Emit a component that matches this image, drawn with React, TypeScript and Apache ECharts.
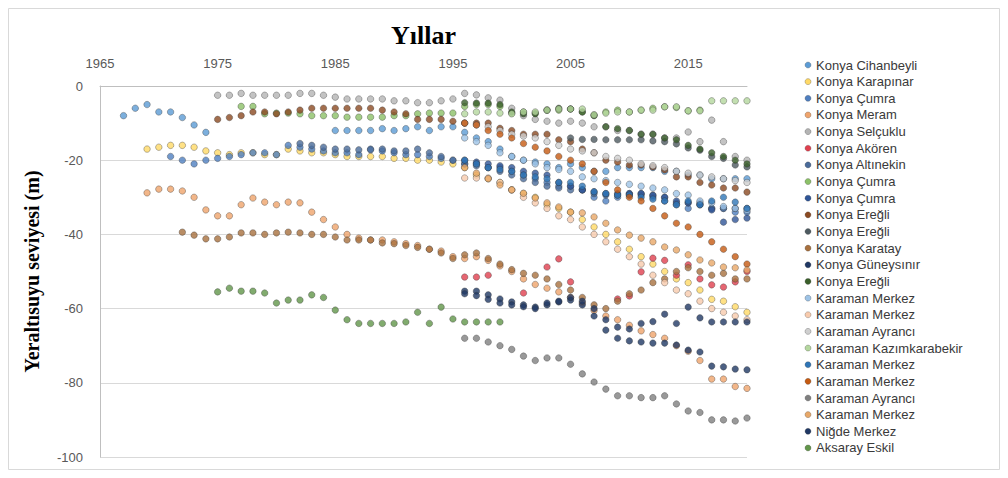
import React, { useEffect, useRef } from "react";
import * as echarts from "echarts";

// ---------- data ----------
const xTickYears = [1965, 1975, 1985, 1995, 2005, 2015];
const yTicks = [0, -20, -40, -60, -80, -100];

const seriesNames = [
  "Konya Cihanbeyli", "Konya Karapınar", "Konya Çumra", "Konya Meram", "Konya Selçuklu",
  "Konya Akören", "Konya Altınekin", "Konya Çumra", "Konya Çumra", "Konya Ereğli",
  "Konya Ereğli", "Konya Karatay", "Konya Güneysınır", "Konya Ereğli", "Karaman Merkez",
  "Karaman Merkez", "Karaman Ayrancı", "Karaman Kazımkarabekir", "Karaman Merkez", "Karaman Merkez",
  "Karaman Ayrancı", "Karaman Merkez", "Niğde Merkez", "Aksaray Eskil",
];

const seriesColors = [
  "#5B9BD5", "#FFD966", "#4F7FC0", "#EFA46C", "#B4B4B4",
  "#E0404F", "#4A6B9A", "#8CC168", "#2F5597", "#8B4A22",
  "#4D5A60", "#A8703E", "#1F3864", "#3A5F2A", "#9DC3E6",
  "#F8CBAD", "#CFCFCF", "#B4D79E", "#2E75B6", "#C55A11",
  "#7F7F7F", "#E8A868", "#203864", "#62964A",
];

const startYears = [
  1967, 1969, 1971, 1969, 1975,
  1996, 1982, 1977, 1996, 1975,
  2005, 1972, 1996, 1996, 1996,
  1996, 1996, 1996, 1996, 1996,
  1996, 1996, 1996, 1975,
];

const konyaCihanbeyli = [-8, -6, -5, -7, -7, -8.5, -10.5, -12.5,
  null, null, null, null, null, null, null, null, null, null,
  -12, -12, -12, -12, -11.5, -12, -11.5, -11, -12, -11, -11,
  -12.5, -14, -15, -17, -19, -20, -20.5, -21, -22, -21, -22, -23, -23, -22, -22, -22, -22, -23, -23, -24, -24, -25, -25, -25, -25];
const konyaKarapinar = [-17, -16.5, -16, -16, -16.5, -17.5, -18, -18.5, -18, -18, -18.5, -18.5, -17, -17.5, -18, -18, -18.5, -19, -19, -19, -19, -19.5, -19.5, -20, -20, -20.5, -21,
  -22, -24, -25, -26, -28, -29, -30, -32, -33, -34, -36, -38, -40, -42, -44, -46, -48, -50, -52, -53, -55, -57.5, -58, -59.5, -61];
const konyaCumra1 = [-19, -20, -21, -20, -19.5, -19, -18.5, -18, -18, -18.5, -16, -16.5, -17, -17.5, -18, -18, -18.5, -17, -17.5, -18, -18.5, -18.5, -19, -19.5, -20,
  -21, -21, -22, -22, -23, -24, -25, -26, -27, -27, -28, -30, -31, -30, -29, -29, -30, -31, -32, -33, -32, -33, -33, -34, -34];
const konyaMeram = [-28.8, -27.8, -27.8, -28.3, -30, -33.4, -35, -35, -32, -30.2, -31.3, -32, -31.3, -31.5, -34, -36, -38, -40, -41, -41.5, -41.5, -42, -42.5, -43, -44, -44.5, -46,
  -46.5, -46, -47, -48.5, -50, -52, -53.5, -54.5, -55.5, -57, -58.5, -60.5, -62, -63, -64.5, -66, -67, -68, -70, -71.5, -74, -79, -79, -81, -81.5];
const konyaSelcuklu = [-2.5, -2.5, -2, -2.5, -2.5, -2.5, -2.5, -2, -2, -2.5, -3, -3.5, -3.5, -3.5, -3.5, -4, -4, -4.5, -4.5, -4, -3.5, -2, -2.4, -3.2, -3.8,
  -6, -8, -9, -9.5, -10, -9.5, -10, -11, -11, -12, -12, -13, -13, -14, -14, -12.4, -15, -9.2, -15, -19, -20];
const konyaAkoren = [-51.5, -51.5, -51, null, null, -55.8, null, -48.8, -46.6, -52.8, null, null, null, -57.4, -56.6, -50.1, -46.4, -47, -51, -48.2, -52, -53.6, -54.2, -52.8, -50];
const konyaAltinekin = [-15.5, -16, -16.5, -17, -17, -17.2, -17.2, -17, -17.5, -17.5, -17, -18, -19, -20,
  -21, -21.5, -22, -23, -24, -25, -26, -27, -27.5, -28, -28, -29, -29.4, -29.4, -29.4, -29.4, -29.4, -30, -31.5, -31.5, -32, -33, -33, -33, -33];
const konyaCumra2 = [-5.5, -5.5, -7.5, -7.3, -7.3, -7.5, -8, -8, -8, -8.4, -8.4, -8.4, -8.4, -8, -8, -7.5, -7.3, -7.3, -7.3,
  -5.5, -5, -5, -5.5, -7.3, -7, -7.3, -6.5, -6.5, -6.2, -7, -7.8, -7, -6.5, -7, -6.5, -6, -5.6, -5.8, -6.7, -6.5];
const konyaCumra3 = [-20, -20.5, -21, -21.5, -22, -23, -23.5, -24, -26, -27, -28, -28.5, -29, -29, -29, -29, -29.5, -30, -31, -31.5, -31.5, -33.4, -36.7, -36, -35.6];
const konyaEregli1 = [-9, -8.5, -8, -7, -7, -7.5, -7, -6.5, -6, -6, -6, -6, -6, -6, -6.5, -7, -7.5, -9, -9, -9, -9.5, -10, -10, -10, -11.4,
  -12, -13, -13, -13, -14.5, -15, -17, -18, -20, -20.5, -21.3, -21.3, -21.8, -22.6, -24.5, -24.5, -26, -26.7, -27.5, -27.5, -28.6];
const konyaEregli2 = [-14, -14.4, -14.4, -14.5, -14.5, -14.5, -14.5, -14.8, -15, -15.6, -16.7, -17.3, -19, -19.5, -21.3, -21.8];
const konyaKaratay = [-39.4, -40.2, -41.2, -41.2, -40.7, -39.6, -39.6, -40, -39.6, -39.4, -39.6, -40, -40, -40.7, -41.5, -41.5, -41.5, -42.3, -42.5, -43, -43.5, -44, -45, -46.5,
  -45.5, -45, -46.5, -48, -49.5, -50.5, -51, -52, -53.5, -55, -57, -59, -60, -58, -56, -55, -53, -52, -50, -49, -50, -51, -50.5, -52, -52];
const konyaGuneysinir = [-55.3, -55.3, -56.3, -57.4, -58.2, -59, -59.6, -59, -58.2, -57.7, -59, -62, -65.8, -68, -68.7, -69, -69.3, -69.3, -69.8, -71.2, -71.7, -75.5, -75.7, -76.3, -76.5];
const konyaEregli3 = [-4.5, -4.6, -4.6, -5, -7, -7.5, -7.5, -6.5, -6, -6.2, -7, -8, -11, -11.5, -12, -13, -13, -14, -14.5, -16, -17, -18, -19, -20, -21];
const karamanMerkez1 = [-14, -15, -16, -18, -19, -20, -21, -22, -22.5, -23, -24.5, -25, -25.5, -26, -26.5, -27, -27.5, -28, -29, -29.4, -31, -31.5, -32.5, -33, -33.5];
const karamanMerkez2 = [-24.8, -24.8, -24.8, -26, -28, -30, -31.5, -33, -35, -36, -38, -40, -42, -44, -46, -48, -51, -53, -55, -56, -58, -60, -61, -62, -63];
const karamanAyranci1 = [-10, -10.5, -11, -12, -13, -13.5, -14, -15, -16, -17, -17.5, -18, -19, -19.5, -20, -21, -21.5, -22, -23, -23.5, -24, -24.5, -25, -25.5, -26];
const karamanKazimkarabekir = [-7.5, -7, -7, -7.3, -7.5, -7, -7, -6.5, -6.2, -6.2, -6.2, -7.8, -7.3, -7, -7, -6.5, -6.5, -5.6, -5.6, -6.7, -6.7, -4, -4, -4, -4];
const karamanMerkez3 = [-20, -21, -22, -22.5, -23, -24, -24.5, -25, -26, -26, -27, -28.5, -29, -29.4, -29.4, -30, -30.5, -31, -32, -31, -32, -31, -30, -31.3, -33];
const karamanMerkez4 = [-10, -10.5, -12, -13, -14, -15.5, -16.5, -17.5, -19, -20, -21, -23, -26, -28, -30, -31, -33, -35, -37, -38, -40, -42, -44, -46, -48];
const karamanAyranci2 = [-68, -68, -69, -70, -71, -72.8, -74, -73.3, -73.3, -75, -77.6, -79.8, -81.7, -83.5, -83.5, -84, -84, -83.5, -85.7, -87.6, -88, -90, -90, -90.3, -89.5];
const karamanMerkez5 = [-22, -23.5, -25, -26.7, -28, -28.9, -30.2, -31.5, -32.6, -34, -34.2, -35.3, -37, -38.8, -40.2, -41, -42, -43.4, -44.2, -45.5, -46.9, -47.7, -48.8, -49, -49.6];
const nigdeMerkez = [-56, -56.5, -57.5, -58.5, -59, -59.5, -60, -58.5, -58, -57, -58, -60, -63, -65, -65.5, -64, -63.5, -61.5, -64, -59.6, -62.5, -63.6, -63.6, -63.6, -63.6];
const aksarayEskil = [-55.5, -54.5, -55.3, -55.3, -55.8, -58.5, -57.7, -57.7, -56.3, -57, -60.4, -63, -64, -64, -64, -64, -63.6, -61, -64, -59.6, -62.8, -63.6, -63.6, -63.6, -63.6];

const seriesValues: (number | null)[][] = [
  konyaCihanbeyli, konyaKarapinar, konyaCumra1, konyaMeram, konyaSelcuklu,
  konyaAkoren, konyaAltinekin, konyaCumra2, konyaCumra3, konyaEregli1,
  konyaEregli2, konyaKaratay, konyaGuneysinir, konyaEregli3, karamanMerkez1,
  karamanMerkez2, karamanAyranci1, karamanKazimkarabekir, karamanMerkez3, karamanMerkez4,
  karamanAyranci2, karamanMerkez5, nigdeMerkez, aksarayEskil,
];

const xAxisTitle = "Yıllar";
const yAxisTitle = "Yeraltısuyu seviyesi (m)";

// ---------- component ----------
export default function App() {
  const ref = useRef<HTMLDivElement>(null);

  useEffect(() => {
    if (!ref.current) return;
    const chart = echarts.init(ref.current, undefined, { renderer: "svg" });

    const series = seriesValues.map((vals, si) => ({
      type: "scatter" as const,
      name: seriesNames[si],
      symbol: "circle",
      symbolSize: 6.5,
      itemStyle: {
        color: seriesColors[si],
        borderColor: "rgba(50,50,50,0.55)",
        borderWidth: 0.8,
      },
      data: vals
        .map((v, i) => (v === null ? null : [startYears[si] + i, v]))
        .filter((d) => d !== null),
    }));

    const legendX = 808;
    const legendY0 = 65;
    const legendStep = 16.65;
    const legendChildren: any[] = [];
    seriesNames.forEach((name, i) => {
      legendChildren.push({
        type: "circle",
        shape: { cx: legendX, cy: legendY0 + i * legendStep, r: 3 },
        style: { fill: seriesColors[i], stroke: "rgba(50,50,50,0.45)", lineWidth: 0.6 },
      });
      legendChildren.push({
        type: "text",
        x: legendX + 8,
        y: legendY0 + i * legendStep,
        style: {
          text: name,
          fill: "#3a3a3a",
          font: "13px 'Liberation Sans', Arial, sans-serif",
          verticalAlign: "middle",
          align: "left",
        },
      });
    });

    chart.setOption({
      animation: false,
      backgroundColor: "#ffffff",
      grid: { left: 100, top: 86, width: 647, height: 371, containLabel: false },
      xAxis: {
        type: "value",
        position: "top",
        min: 1965,
        max: 2020,
        interval: 10,
        name: xAxisTitle,
        nameLocation: "middle",
        nameGap: 38,
        nameTextStyle: {
          fontFamily: "'Liberation Serif', 'Times New Roman', serif",
          fontWeight: "bold",
          fontSize: 26,
          color: "#000000",
        },
        axisLine: { show: true, lineStyle: { color: "#BFBFBF", width: 1 } },
        axisTick: { show: false },
        splitLine: { show: false },
        axisLabel: {
          show: true,
          showMaxLabel: false,
          margin: 16,
          color: "#595959",
          fontSize: 13,
          fontFamily: "'Liberation Sans', Arial, sans-serif",
          formatter: (v: number) => (xTickYears.includes(v) ? String(v) : ""),
        },
      },
      yAxis: {
        type: "value",
        min: -100,
        max: 0,
        interval: 20,
        name: yAxisTitle,
        nameLocation: "middle",
        nameGap: 58,
        nameRotate: 90,
        nameTextStyle: {
          fontFamily: "'Liberation Serif', 'Times New Roman', serif",
          fontWeight: "bold",
          fontSize: 20,
          color: "#000000",
        },
        axisLine: { show: true, lineStyle: { color: "#BFBFBF", width: 1 } },
        axisTick: { show: false },
        splitLine: { show: true, lineStyle: { color: "#D9D9D9", width: 1 } },
        axisLabel: {
          margin: 17,
          color: "#595959",
          fontSize: 13,
          fontFamily: "'Liberation Sans', Arial, sans-serif",
          formatter: (v: number) => (yTicks.includes(v) ? String(v) : ""),
        },
      },
      graphic: [
        {
          type: "rect",
          shape: { x: 8.5, y: 8.5, width: 991, height: 461 },
          style: { fill: "none", stroke: "#D9D9D9", lineWidth: 1 },
          silent: true,
        },
        { type: "group", children: legendChildren, silent: true },
      ],
      series,
    });

    return () => chart.dispose();
  }, []);

  return (
    <div
      ref={ref}
      style={{ position: "absolute", left: 0, top: 0, width: 1008, height: 478 }}
    />
  );
}
